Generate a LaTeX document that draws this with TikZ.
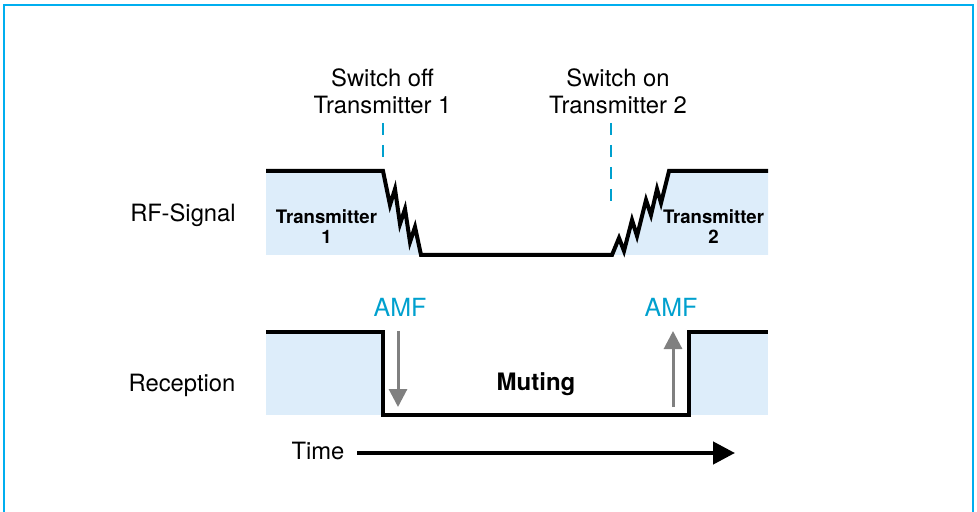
\documentclass[tikz,border=0pt]{standalone}
\usepackage{fontspec}
\setmainfont{TeX Gyre Heros}
\usetikzlibrary{arrows.meta}
\definecolor{FrameBlue}{RGB}{0,174,239}
\definecolor{SigFill}{RGB}{221,237,250}
\definecolor{AMFBlue}{RGB}{0,160,206}
\definecolor{ArrGray}{RGB}{128,128,128}

\begin{document}
\begin{tikzpicture}[x=0.5pt,y=-0.5pt,
lbl/.style={inner sep=0pt,font=\fontsize{11.9}{13.25}\selectfont,align=center},
tx/.style={inner sep=0pt,font=\fontsize{9.3}{10}\selectfont\bfseries,align=center},
amf/.style={inner sep=0pt,font=\fontsize{12.5}{14}\selectfont,text=AMFBlue},
sig/.style={line width=2pt,line join=miter,black},
cue/.style={AMFBlue,line width=1pt,dash pattern=on 6pt off 5pt},
amfarrow/.style={-{Triangle[length=9pt,width=9pt]},ArrGray,line width=1.5pt},
timearrow/.style={-{Triangle[length=11pt,width=11pt]},line width=2.2pt}
]
\useasboundingbox (0,0) rectangle (977,512);
% frame
\draw[FrameBlue,line width=0.9pt] (4,512) -- (4,5) -- (973,5) -- (973,512);
% RF signal
\fill[SigFill] (266,171) -- (383,171) -- (390,205) -- (395,189) -- (400,224) -- (405,209) -- (410,242) -- (415,227) -- (421,255) -- (266,255) -- cycle;
\fill[SigFill] (612,255) -- (619,238) -- (624,251) -- (632,220) -- (637,236) -- (646,200) -- (651,215) -- (657,189) -- (661,203) -- (669,171) -- (768,171) -- (768,255) -- cycle;
\draw[sig] (266,171) -- (383,171) -- (390,205) -- (395,189) -- (400,224) -- (405,209) -- (410,242) -- (415,227) -- (421,255)
  -- (612,255) -- (619,238) -- (624,251) -- (632,220) -- (637,236) -- (646,200) -- (651,215) -- (657,189) -- (661,203) -- (669,171) -- (768,171);
% reception
\fill[SigFill] (266,332) rectangle (383,415);
\fill[SigFill] (689,332) rectangle (768,415);
\draw[sig] (266,332) -- (383,332) -- (383,415) -- (689,415) -- (689,332) -- (768,332);
% labels
\node[lbl] (offlbl) at (382.5,91.5) {Switch off\\Transmitter 1};
\node[lbl] (onlbl) at (618,91.5) {Switch on\\Transmitter 2};
\node[lbl,anchor=base] (rfsig) at (183,222) {RF-Signal};
\node[lbl,anchor=base] (recep) at (182,391.5) {Reception};
\node[lbl,anchor=base] (timelbl) at (318,459) {Time};
\node[tx] (tx1) at (326.5,226.5) {Transmitter\\1};
\node[tx] (tx2) at (713.5,226.5) {Transmitter\\2};
\node[amf,anchor=base] (amfL) at (400,317) {AMF};
\node[amf,anchor=base] (amfR) at (671,317) {AMF};
\node[inner sep=0pt,anchor=base,font=\fontsize{12}{14}\selectfont\bfseries] (muting) at (536,390) {Muting};
% cue lines
\coordinate (off1) at (383,123);
\coordinate (off2) at (383,162);
\coordinate (on1) at (611,123);
\coordinate (on2) at (611,201);
\draw[cue] (off1) -- (off2);
\draw[cue] (on1) -- (on2);
% AMF arrows
\coordinate (dnA) at (398,331);
\coordinate (dnB) at (398,407);
\coordinate (upA) at (673,407);
\coordinate (upB) at (673,331);
\draw[amfarrow] (dnA) -- (dnB);
\draw[amfarrow] (upA) -- (upB);
% time axis
\coordinate (tstart) at (357,453);
\coordinate (tend) at (735,453);
\draw[timearrow] (tstart) -- (tend);
\end{tikzpicture}
\end{document}
